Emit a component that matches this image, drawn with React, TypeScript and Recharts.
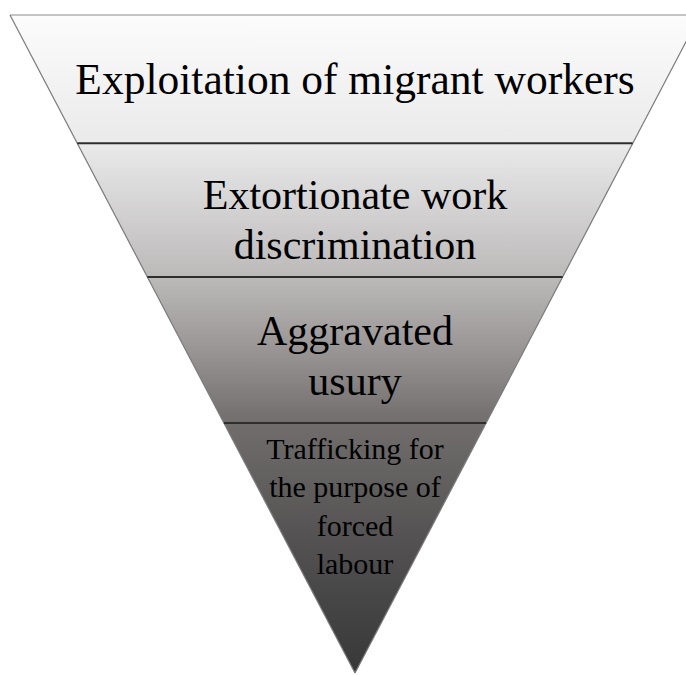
import React from "react";
import { ComposedChart, Area, Scatter, XAxis, YAxis, ReferenceLine } from "recharts";

// Levels of the inverted pyramid, top to bottom
const levels = [
  "Exploitation of migrant workers",
  "Extortionate work discrimination",
  "Aggravated usury",
  "Trafficking for the purpose of forced labour",
];
// How each label is broken into lines
const levelLines = [
  ["Exploitation of migrant workers"],
  ["Extortionate work", "discrimination"],
  ["Aggravated", "usury"],
  ["Trafficking for", "the purpose of", "forced", "labour"],
];
// Depth (0 = top edge, 100 = apex) of the band boundaries
const boundaries = [0, 19.5, 39.8, 62.0, 100];

// Half width of the pyramid (x units) at a given depth
const halfWidth = (d: number) => 50 * (1 - d / 100);

// Triangle outline as a range area (depth range at each x)
const triangleData = [
  { x: -halfWidth(0), r: [0, 0] },
  { x: 0, r: [0, 100] },
  { x: halfWidth(0), r: [0, 0] },
];

const labelData = levels.map((name, i) => ({
  x: 0,
  y: (boundaries[i] + boundaries[i + 1]) / 2,
  name,
  idx: i,
}));

// text styling per level
const fontSizes = [43.5, 42, 42, 30];
const lineHeights = [50, 50, 50, 38.5];
const textDy = [0, 9, 5, -42];

const LabelShape = (props: any) => {
  const { cx, cy, payload } = props;
  const i = payload.idx;
  const lines = levelLines[i];
  const fs = fontSizes[i];
  const lh = lineHeights[i];
  const first = cy - ((lines.length - 1) * lh) / 2 + 0.35 * fs + textDy[i];
  return (
    <g>
      {lines.map((t, k) => (
        <text
          key={k}
          x={cx}
          y={first + k * lh}
          textAnchor="middle"
          fontFamily="'Liberation Serif', 'Times New Roman', serif"
          fontSize={fs}
          fill="#000"
        >
          {t}
        </text>
      ))}
    </g>
  );
};

export default function App() {
  return (
    <div style={{ position: "absolute", left: 0, top: 0, width: 686, height: 675, overflow: "hidden", background: "#fff" }}>
      <ComposedChart width={700} height={675} margin={{ top: 15, right: 0, bottom: 2, left: 10 }}>
        <defs>
          <linearGradient id="pyrGrad" x1="0" y1="0" x2="0" y2="1">
            <stop offset="0" stopColor="#fcfcfc" />
            <stop offset="0.195" stopColor="#eaeaea" />
            <stop offset="0.398" stopColor="#bcb9b9" />
            <stop offset="0.509" stopColor="#999595" />
            <stop offset="0.62" stopColor="#716d6d" />
            <stop offset="0.8" stopColor="#535151" />
            <stop offset="1" stopColor="#383838" />
          </linearGradient>
        </defs>
        <XAxis type="number" dataKey="x" domain={[-50, 50]} hide allowDataOverflow />
        <YAxis type="number" domain={[0, 100]} reversed hide allowDataOverflow />
        <Area
          data={triangleData}
          dataKey="r"
          type="linear"
          fill="url(#pyrGrad)"
          fillOpacity={1}
          stroke="none"
          isAnimationActive={false}
        />
        {/* outline */}
        <ReferenceLine
          segment={[{ x: -halfWidth(0), y: 0 }, { x: halfWidth(0), y: 0 }]}
          stroke="#8c8c8c"
          strokeWidth={1.2}
        />
        <ReferenceLine
          segment={[{ x: -halfWidth(0), y: 0 }, { x: 0, y: 100 }]}
          stroke="#7a7a7a"
          strokeWidth={1.2}
        />
        <ReferenceLine
          segment={[{ x: halfWidth(0), y: 0 }, { x: 0, y: 100 }]}
          stroke="#7a7a7a"
          strokeWidth={1.2}
        />
        {/* separators between levels */}
        {boundaries.slice(1, -1).map((d, i) => (
          <ReferenceLine
            key={i}
            segment={[{ x: -halfWidth(d), y: d }, { x: halfWidth(d), y: d }]}
            stroke="#2e2e2e"
            strokeWidth={2}
          />
        ))}
        <Scatter data={labelData} dataKey="y" shape={LabelShape} isAnimationActive={false} />
      </ComposedChart>
    </div>
  );
}
